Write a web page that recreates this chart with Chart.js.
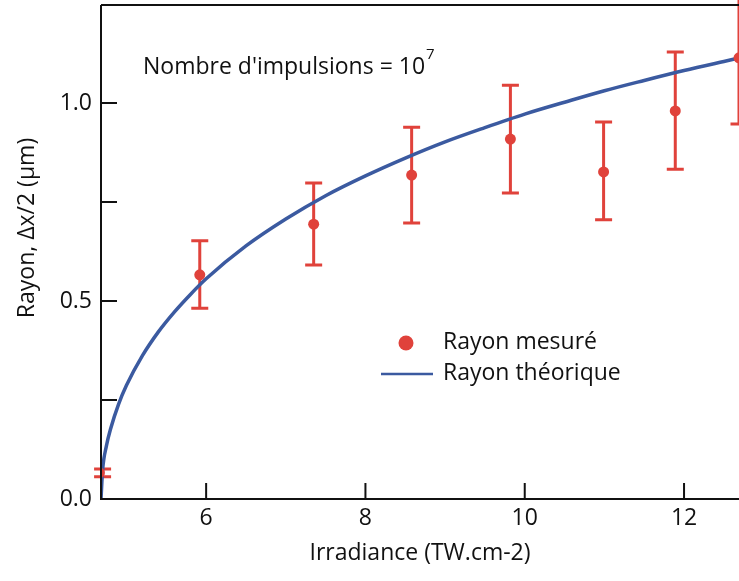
<!DOCTYPE html>
<html>
<head>
<meta charset="utf-8">
<script src="https://cdn.jsdelivr.net/npm/chart.js@4.4.1/dist/chart.umd.min.js"></script>
<style>
html,body{margin:0;padding:0;background:#fff;}
#wrap{width:739px;height:581px;position:relative;}
</style>
</head>
<body>
<div id="wrap"><canvas id="c" width="739" height="581"></canvas></div>
<script>
// ---- data ----
const measuredX = [4.66, 5.92, 7.35, 8.58, 9.82, 10.99, 11.89, 12.69];
const measuredY = [0.066, 0.566, 0.694, 0.818, 0.909, 0.826, 0.980, 1.114];
const errorLow  = [0.056, 0.482, 0.591, 0.697, 0.773, 0.705, 0.833, 0.947];
const errorHigh = [0.076, 0.652, 0.798, 0.939, 1.045, 0.952, 1.129, 1.281];

const theoryX = [4.68, 4.70, 4.75, 4.80, 4.90, 5.00, 5.20, 5.40, 5.60, 5.80, 6.00, 6.50, 7.00, 7.50, 8.00, 8.50, 9.00, 9.50, 10.00, 10.50, 11.00, 11.50, 12.00, 12.50, 12.70];
const theoryY = [0.000, 0.073, 0.136, 0.177, 0.239, 0.287, 0.362, 0.422, 0.472, 0.516, 0.556, 0.639, 0.707, 0.766, 0.816, 0.861, 0.902, 0.938, 0.972, 1.002, 1.031, 1.057, 1.082, 1.105, 1.114];

const xTicks = [6, 8, 10, 12];
const yTicksMajor = [0.0, 0.5, 1.0];
const yTicksMinor = [0.25, 0.75];

const seriesLabels = ['Rayon mesuré', 'Rayon théorique'];
const xTitle = 'Irradiance (TW.cm-2)';
const yTitle = 'Rayon, \u0394x/2 (\u00b5m)';
const noteText = "Nombre d'impulsions = 10";
const noteExp = '7';

const RED = '#e0423b';
const BLUE = '#3b5aa0';
const FONT = '"Open Sans", "Liberation Sans", sans-serif';
const FS = 23;

const measuredPts = measuredX.map((x, i) => ({x: x, y: measuredY[i]}));
const theoryPts = theoryX.map((x, i) => ({x: x, y: theoryY[i]}));

const decorPlugin = {
  id: 'decor',
  beforeDatasetsDraw(chart) {
    const ctx = chart.ctx, xs = chart.scales.x, ys = chart.scales.y;
    ctx.save();
    ctx.strokeStyle = RED;
    ctx.lineWidth = 3;
    ctx.lineCap = 'butt';
    for (let i = 0; i < measuredX.length; i++) {
      const px = xs.getPixelForValue(Math.max(measuredX[i], xs.min + 0.02));
      const lo = ys.getPixelForValue(errorLow[i]);
      const hi = ys.getPixelForValue(errorHigh[i]);
      ctx.beginPath();
      ctx.moveTo(px, lo); ctx.lineTo(px, hi);
      ctx.moveTo(px - 8.5, lo); ctx.lineTo(px + 8.5, lo);
      ctx.moveTo(px - 8.5, hi); ctx.lineTo(px + 8.5, hi);
      ctx.stroke();
    }
    ctx.restore();
  },
  afterDraw(chart) {
    const ctx = chart.ctx, xs = chart.scales.x, ys = chart.scales.y, a = chart.chartArea;
    ctx.save();
    ctx.strokeStyle = '#111';
    ctx.lineWidth = 2;
    ctx.beginPath();
    ctx.moveTo(a.left, a.top); ctx.lineTo(a.left, a.bottom); ctx.lineTo(a.right, a.bottom);
    ctx.moveTo(a.left, a.top); ctx.lineTo(a.right, a.top);
    ctx.stroke();
    ctx.beginPath();
    yTicksMajor.concat(yTicksMinor).forEach(v => {
      const py = ys.getPixelForValue(v);
      ctx.moveTo(a.left, py); ctx.lineTo(a.left + 16, py);
    });
    xTicks.forEach(v => {
      const px = xs.getPixelForValue(v);
      ctx.moveTo(px, a.bottom); ctx.lineTo(px, a.bottom - 16);
    });
    ctx.stroke();
    ctx.fillStyle = '#111';
    ctx.font = FS + 'px ' + FONT;
    ctx.textAlign = 'right'; ctx.textBaseline = 'middle';
    yTicksMajor.forEach(v => {
      ctx.fillText(v.toFixed(1), a.left - 9, ys.getPixelForValue(v));
    });
    ctx.textAlign = 'center'; ctx.textBaseline = 'top';
    xTicks.forEach(v => {
      ctx.fillText(String(v), xs.getPixelForValue(v), a.bottom + 8);
    });
    ctx.textBaseline = 'middle';
    ctx.fillText(xTitle, (a.left + a.right) / 2, 553);
    ctx.save();
    ctx.translate(27, 228);
    ctx.rotate(-Math.PI / 2);
    ctx.fillText(yTitle, 0, 0);
    ctx.restore();
    ctx.textAlign = 'left';
    ctx.fillText(noteText, 143, 67);
    const w = ctx.measureText(noteText).width;
    ctx.font = '15px ' + FONT;
    ctx.fillText(noteExp, 143 + w + 1, 55);
    ctx.font = FS + 'px ' + FONT;
    ctx.fillStyle = RED;
    ctx.beginPath(); ctx.arc(406, 343, 7.5, 0, Math.PI * 2); ctx.fill();
    ctx.strokeStyle = BLUE; ctx.lineWidth = 2.5;
    ctx.beginPath(); ctx.moveTo(381, 374); ctx.lineTo(433, 374); ctx.stroke();
    ctx.fillStyle = '#111';
    ctx.fillText(seriesLabels[0], 443, 342);
    ctx.fillText(seriesLabels[1], 443, 373);
    ctx.restore();
  }
};

new Chart(document.getElementById('c'), {
  type: 'scatter',
  data: {
    datasets: [
      {
        label: seriesLabels[1],
        data: theoryPts,
        showLine: true,
        borderColor: BLUE,
        borderWidth: 3.5,
        pointRadius: 0,
        cubicInterpolationMode: 'monotone',
        order: 1
      },
      {
        label: seriesLabels[0],
        data: measuredPts,
        showLine: false,
        backgroundColor: RED,
        borderColor: RED,
        pointRadius: 5.5,
        pointBorderWidth: 0,
        order: 0
      }
    ]
  },
  options: {
    responsive: false,
    animation: false,
    devicePixelRatio: 1,
    layout: {autoPadding: false, padding: {top: 5, right: 0, left: 0, bottom: 0}},
    plugins: {legend: {display: false}, tooltip: {enabled: false}},
    scales: {
      x: {
        type: 'linear', min: 4.68, max: 12.69,
        grid: {display: false}, border: {display: false},
        ticks: {display: false},
        afterFit: s => { s.height = 82; }
      },
      y: {
        type: 'linear', min: 0, max: 1.2475,
        grid: {display: false}, border: {display: false},
        ticks: {display: false},
        afterFit: s => { s.width = 101; }
      }
    }
  },
  plugins: [decorPlugin]
});
</script>
</body>
</html>
